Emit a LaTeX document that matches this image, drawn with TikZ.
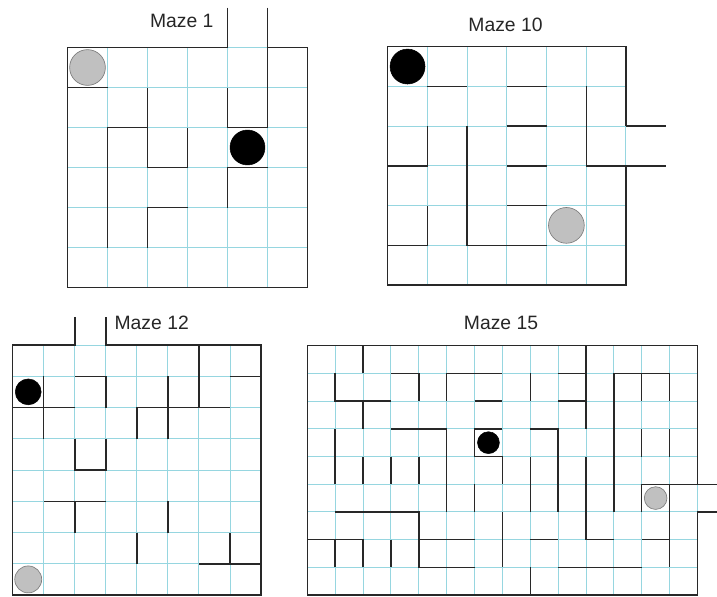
\documentclass[tikz,border=0pt]{standalone}
\usepackage{fontspec}
\setmainfont{Liberation Sans}
\usepackage{xcolor}
\definecolor{mzgrid}{RGB}{150,214,224}
\definecolor{mzwall}{RGB}{40,40,40}
\definecolor{mzgrey}{RGB}{192,192,192}
\definecolor{mzedge}{RGB}{125,125,125}
\usepackage{tikz}
\newcommand{\mazegrid}[2]{%
  \foreach \i in {0,...,#1} \draw[gridln] (\i,0) -- (\i,#2);
  \foreach \j in {0,...,#2} \draw[gridln] (0,\j) -- (#1,\j);}
\tikzset{
  gridln/.style={draw=mzgrid, line width=0.7pt},
  wall/.style={draw=mzwall, line width=1.1pt},
  title/.style={font=\fontsize{14.5}{16}\selectfont, text=black!85, inner sep=0pt},
  darkdot/.style={circle, fill=black, draw=black, inner sep=0pt},
  lightdot/.style={circle, fill=mzgrey, draw=mzedge, line width=0.5pt, inner sep=0pt}
}

\begin{document}
\begin{tikzpicture}[x=0.75pt, y=-0.75pt]
  \useasboundingbox (0,0) rectangle (717,596);

  \node[title] (t1) at (181.7,21) {Maze 1};
  \node[title] (t10) at (505.5,24.5) {Maze 10};
  \node[title] (t12) at (151.7,323) {Maze 12};
  \node[title] (t15) at (501,323) {Maze 15};

  % maze 1, 6 x 6
  \begin{scope}[shift={(67.5,47.5)}, x=30pt, y=-30pt]
    \mazegrid{6}{6}
    \draw[wall] (4,-1) -- (4,0) -- (0,0) -- (0,6) -- (6,6) -- (6,0) -- (5,0);
    \draw[wall] (5,-1) -- (5,2) -- (4,2) -- (4,1);
    \draw[wall] (0,1) -- (1,1);
    \draw[wall] (2,1) -- (2,3) -- (3,3) -- (3,2);
    \draw[wall] (2,2) -- (1,2) -- (1,5);
    \draw[wall] (5,3) -- (4,3) -- (4,4);
    \draw[wall] (3,4) -- (2,4) -- (2,5);
    \node[lightdot, minimum size=26.8pt] (m1grey) at (0.5,0.5) {};
    \node[darkdot, minimum size=26.2pt] (m1black) at (4.5,2.5) {};
  \end{scope}

  % maze 10, 6 x 6
  \begin{scope}[shift={(387.7,46.7)}, x=29.78pt, y=-29.78pt]
    \mazegrid{6}{6}
    \draw[wall] (6,2) -- (6,0) -- (0,0) -- (0,6) -- (6,6) -- (6,3);
    \draw[wall] (7,2) -- (6,2);
    \draw[wall] (7,3) -- (5,3) -- (5,1);
    \draw[wall] (1,1) -- (2,1);
    \draw[wall] (3,1) -- (4,1);
    \draw[wall] (0,3) -- (1,3) -- (1,2);
    \draw[wall] (2,2) -- (2,5) -- (4,5);
    \draw[wall] (3,2) -- (4,2);
    \draw[wall] (3,3) -- (4,3);
    \draw[wall] (3,4) -- (4,4);
    \draw[wall] (0,5) -- (1,5) -- (1,4);
    \node[darkdot, minimum size=26.2pt] (m10black) at (0.5,0.5) {};
    \node[lightdot, minimum size=26.8pt] (m10grey) at (4.5,4.5) {};
  \end{scope}

  % maze 12, 8 x 8
  \begin{scope}[shift={(12.7,345)}, x=23.28pt, y=-23.44pt]
    \mazegrid{8}{8}
    \draw[wall] (2,-0.9) -- (2,0) -- (0,0) -- (0,8) -- (8,8) -- (8,0) -- (3,0) -- (3,-0.9);
    \draw[wall] (0,2) -- (2,2);
    \draw[wall] (1,1) -- (1,3);
    \draw[wall] (2,1) -- (3,1) -- (3,2);
    \draw[wall] (6,0) -- (6,2);
    \draw[wall] (7,1) -- (8,1);
    \draw[wall] (5,1) -- (5,3);
    \draw[wall] (4,3) -- (4,2) -- (7,2);
    \draw[wall] (2,3) -- (2,4) -- (3,4) -- (3,3);
    \draw[wall] (1,5) -- (3,5);
    \draw[wall] (2,5) -- (2,6);
    \draw[wall] (5,5) -- (5,6);
    \draw[wall] (4,6) -- (4,7);
    \draw[wall] (7,6) -- (7,7);
    \draw[wall] (6,7) -- (8,7);
    \node[darkdot, minimum size=19.4pt] (m12black) at (0.5,1.5) {};
    \node[lightdot, minimum size=20.2pt] (m12grey) at (0.5,7.5) {};
  \end{scope}

  % maze 15, 14 x 9
  \begin{scope}[shift={(307.3,345.7)}, x=20.9pt, y=-20.78pt]
    \mazegrid{14}{9}
    \draw[wall] (14,5) -- (14,0) -- (0,0) -- (0,9) -- (14,9) -- (14,6);
    \draw[wall] (14.7,5) -- (12,5) -- (12,6);
    \draw[wall] (14.7,6) -- (14,6);
    \draw[wall] (2,0) -- (2,1);
    \draw[wall] (1,1) -- (1,2) -- (3,2);
    \draw[wall] (2,2) -- (2,3);
    \draw[wall] (3,1) -- (4,1) -- (4,2);
    \draw[wall] (5,2) -- (5,1) -- (7,1);
    \draw[wall] (6,2) -- (7,2);
    \draw[wall] (8,1) -- (8,2);
    \draw[wall] (9,1) -- (10,1);
    \draw[wall] (9,2) -- (10,2);
    \draw[wall] (10,0) -- (10,3);
    \draw[wall] (11,6) -- (11,1) -- (13,1) -- (13,2);
    \draw[wall] (12,1) -- (12,2);
    \draw[wall] (1,3) -- (1,5);
    \draw[wall] (3,3) -- (5,3) -- (5,6);
    \draw[wall] (2,4) -- (2,5);
    \draw[wall] (3,4) -- (3,5);
    \draw[wall] (4,4) -- (4,5);
    \draw[wall] (7,3) -- (6,3) -- (6,4) -- (7,4) -- (7,5);
    \draw[wall] (6,5) -- (6,6);
    \draw[wall] (8,3) -- (9,3) -- (9,6);
    \draw[wall] (8,4) -- (8,6);
    \draw[wall] (12,3) -- (12,4);
    \draw[wall] (13,3) -- (13,4);
    \draw[wall] (10,4) -- (10,7) -- (11,7);
    \draw[wall] (13,5) -- (13,8);
    \draw[wall] (12,7) -- (13,7);
    \draw[wall] (1,6) -- (4,6) -- (4,8) -- (6,8);
    \draw[wall] (4,7) -- (6,7);
    \draw[wall] (0,7) -- (2,7) -- (2,8);
    \draw[wall] (1,7) -- (1,8);
    \draw[wall] (3,7) -- (3,8);
    \draw[wall] (7,6) -- (7,8);
    \draw[wall] (8,7) -- (9,7);
    \draw[wall] (8,8) -- (8,9);
    \draw[wall] (9,8) -- (12,8);
    \node[darkdot, minimum size=16.4pt] (m15black) at (6.5,3.5) {};
    \node[lightdot, minimum size=17pt] (m15grey) at (12.5,5.5) {};
  \end{scope}
\end{tikzpicture}
\end{document}
